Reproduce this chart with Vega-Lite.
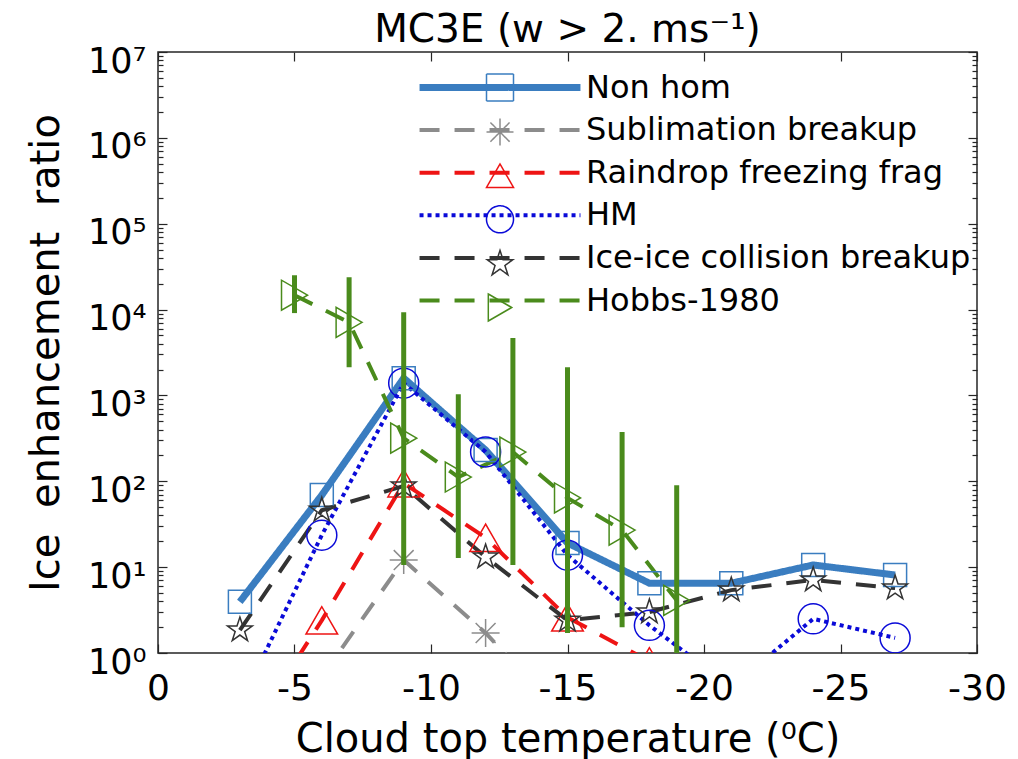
{
  "$schema": "https://vega.github.io/schema/vega-lite/v6.json",
  "width": 819,
  "height": 601,
  "autosize": {"type": "none"},
  "padding": {"left": 158, "top": 52, "right": 41, "bottom": 106},
  "title": {"text": "MC3E (w > 2. ms⁻¹)", "font": "DejaVu Sans", "fontSize": 39, "fontWeight": "normal", "color": "black", "anchor": "middle", "frame": "group", "baseline": "alphabetic", "offset": 9, "dy": 46},
  "datasets": {
    "series": [
      {"series": "Non hom", "t": -3, "ratio": 3.95},
      {"series": "Non hom", "t": -6, "ratio": 69},
      {"series": "Non hom", "t": -9, "ratio": 1590},
      {"series": "Non hom", "t": -12, "ratio": 231},
      {"series": "Non hom", "t": -15, "ratio": 19.1},
      {"series": "Non hom", "t": -18, "ratio": 6.5},
      {"series": "Non hom", "t": -21, "ratio": 6.5},
      {"series": "Non hom", "t": -24, "ratio": 10.6},
      {"series": "Non hom", "t": -27, "ratio": 8.1},
      {"series": "Sublimation breakup", "t": -6, "ratio": 0.53},
      {"series": "Sublimation breakup", "t": -9, "ratio": 12.1},
      {"series": "Sublimation breakup", "t": -12, "ratio": 1.71},
      {"series": "Sublimation breakup", "t": -15, "ratio": 0.17},
      {"series": "Raindrop freezing frag", "t": -3, "ratio": 0.08},
      {"series": "Raindrop freezing frag", "t": -6, "ratio": 2.4},
      {"series": "Raindrop freezing frag", "t": -9, "ratio": 95},
      {"series": "Raindrop freezing frag", "t": -12, "ratio": 22},
      {"series": "Raindrop freezing frag", "t": -15, "ratio": 2.6},
      {"series": "Raindrop freezing frag", "t": -18, "ratio": 0.8},
      {"series": "HM", "t": -3, "ratio": 0.25},
      {"series": "HM", "t": -6, "ratio": 23.6},
      {"series": "HM", "t": -9, "ratio": 1390},
      {"series": "HM", "t": -12, "ratio": 220},
      {"series": "HM", "t": -15, "ratio": 13.8},
      {"series": "HM", "t": -18, "ratio": 2.1},
      {"series": "HM", "t": -21, "ratio": 0.4},
      {"series": "HM", "t": -24, "ratio": 2.5},
      {"series": "HM", "t": -27, "ratio": 1.5},
      {"series": "Ice-ice collision breakup", "t": -3, "ratio": 1.85},
      {"series": "Ice-ice collision breakup", "t": -6, "ratio": 46},
      {"series": "Ice-ice collision breakup", "t": -9, "ratio": 88},
      {"series": "Ice-ice collision breakup", "t": -12, "ratio": 13.1},
      {"series": "Ice-ice collision breakup", "t": -15, "ratio": 2.4},
      {"series": "Ice-ice collision breakup", "t": -18, "ratio": 3.0},
      {"series": "Ice-ice collision breakup", "t": -21, "ratio": 5.4},
      {"series": "Ice-ice collision breakup", "t": -24, "ratio": 7.1},
      {"series": "Ice-ice collision breakup", "t": -27, "ratio": 5.7},
      {"series": "Hobbs-1980", "t": -5, "ratio": 14700},
      {"series": "Hobbs-1980", "t": -7, "ratio": 7100},
      {"series": "Hobbs-1980", "t": -9, "ratio": 318},
      {"series": "Hobbs-1980", "t": -11, "ratio": 112},
      {"series": "Hobbs-1980", "t": -13, "ratio": 219},
      {"series": "Hobbs-1980", "t": -15, "ratio": 64},
      {"series": "Hobbs-1980", "t": -17, "ratio": 27},
      {"series": "Hobbs-1980", "t": -19, "ratio": 4.1}
    ],
    "bars": [
      {"t": -5, "lo": 9100, "hi": 25100},
      {"t": -7, "lo": 2130, "hi": 23800},
      {"t": -9, "lo": 10.6, "hi": 9330},
      {"t": -11, "lo": 12.8, "hi": 1035},
      {"t": -13, "lo": 10.6, "hi": 4650},
      {"t": -15, "lo": 1.71, "hi": 2130},
      {"t": -17, "lo": 2.0, "hi": 374},
      {"t": -19, "lo": 0.5, "hi": 90}
    ]
  },
  "layer": [
    {
      "data": {"name": "series"},
      "mark": {"type": "line", "clip": true, "strokeCap": "butt"},
      "encoding": {
        "x": {
          "field": "t", "type": "quantitative",
          "scale": {"domain": [0, -30], "nice": false, "zero": false},
          "axis": {
            "orient": "bottom",
            "values": [0, -5, -10, -15, -20, -25, -30],
            "labelExpr": "datum.value == 0 ? '0' : '-' + abs(datum.value)",
            "labelFontSize": 36,
            "labelFlush": false,
            "labelOverlap": false,
            "tickSize": -9,
            "labelPadding": 27,
            "title": "Cloud top temperature (⁰C)",
            "titleFontSize": 40,
            "titleBaseline": "alphabetic",
            "titleY": 98
          }
        },
        "y": {
          "field": "ratio", "type": "quantitative",
          "scale": {"type": "log", "domain": [1, 10000000], "nice": false},
          "axis": {
            "orient": "left",
            "values": [1,2,3,4,5,6,7,8,9,10,20,30,40,50,60,70,80,90,100,200,300,400,500,600,700,800,900,1000,2000,3000,4000,5000,6000,7000,8000,9000,10000,20000,30000,40000,50000,60000,70000,80000,90000,100000,200000,300000,400000,500000,600000,700000,800000,900000,1000000,2000000,3000000,4000000,5000000,6000000,7000000,8000000,9000000,10000000],
            "labelExpr": "abs(log(datum.value)/LN10 - round(log(datum.value)/LN10)) < 0.001 ? '10' + ['⁰','¹','²','³','⁴','⁵','⁶','⁷'][round(log(datum.value)/LN10)] : ''",
            "labelFontSize": 35,
            "labelOverlap": false,
            "labelFlush": false,
            "tickSize": {"condition": {"test": "abs(log(datum.value)/LN10 - round(log(datum.value)/LN10)) < 0.001", "value": -9}, "value": -5},
            "labelPadding": 21,
            "labelOffset": 9,
            "title": "Ice\u00a0\u00a0enhancement\u00a0\u00a0ratio",
            "titleFontSize": 40,
            "titleBaseline": "alphabetic",
            "titleX": -100
          }
        },
        "color": {
          "field": "series", "type": "nominal",
          "scale": {
            "domain": ["Non hom", "Sublimation breakup", "Raindrop freezing frag", "HM", "Ice-ice collision breakup", "Hobbs-1980"],
            "range": ["#3a7dc0", "#8c8c8c", "#ee1414", "#0a0ad8", "#333333", "#4a8b1c"]
          },
          "legend": {
            "orient": "none", "legendX": 326, "legendY": 19.5, "title": null,
            "symbolType": "M-5.96,0H5.96", "symbolSize": 729,
            "labelFontSize": 32, "labelOffset": 70, "labelLimit": 600, "rowPadding": 10.6,
            "encode": {"symbols": {"update": {"strokeWidth": {"signal": "datum.value === 'Non hom' ? 7 : 4"}, "fill": {"value": "transparent"}}}}
          }
        },
        "strokeDash": {
          "field": "series", "type": "nominal",
          "scale": {
            "domain": ["Non hom", "Sublimation breakup", "Raindrop freezing frag", "HM", "Ice-ice collision breakup", "Hobbs-1980"],
            "range": [[1, 0], [20, 15], [20, 15], [4, 4], [20, 15], [20, 15]]
          },
          "legend": {
            "orient": "none", "legendX": 326, "legendY": 19.5, "title": null,
            "symbolType": "M-5.96,0H5.96", "symbolSize": 729,
            "labelFontSize": 32, "labelOffset": 70, "labelLimit": 600, "rowPadding": 10.6
          }
        },
        "strokeWidth": {"condition": {"test": "datum.series === 'Non hom'", "value": 7}, "value": 4}
      }
    },
    {
      "data": {"name": "series"},
      "mark": {"type": "point", "filled": false, "strokeWidth": 1.5, "opacity": 1, "clip": true},
      "encoding": {
        "x": {
          "field": "t", "type": "quantitative",
          "axis": {"orient": "top", "values": [0, -5, -10, -15, -20, -25, -30], "labels": false, "tickSize": -9, "title": null}
        },
        "y": {
          "field": "ratio", "type": "quantitative",
          "axis": {
            "orient": "right",
            "values": [1,2,3,4,5,6,7,8,9,10,20,30,40,50,60,70,80,90,100,200,300,400,500,600,700,800,900,1000,2000,3000,4000,5000,6000,7000,8000,9000,10000,20000,30000,40000,50000,60000,70000,80000,90000,100000,200000,300000,400000,500000,600000,700000,800000,900000,1000000,2000000,3000000,4000000,5000000,6000000,7000000,8000000,9000000,10000000],
            "labels": false,
            "tickSize": {"condition": {"test": "abs(log(datum.value)/LN10 - round(log(datum.value)/LN10)) < 0.001", "value": -9}, "value": -5},
            "title": null
          }
        },
        "stroke": {
          "field": "series", "type": "nominal",
          "scale": {
            "domain": ["Non hom", "Sublimation breakup", "Raindrop freezing frag", "HM", "Ice-ice collision breakup", "Hobbs-1980", "zz"],
            "range": ["#3a7dc0", "#8c8c8c", "#ee1414", "#0a0ad8", "#333333", "#4a8b1c", "#000000"]
          },
          "legend": {
            "orient": "none", "legendX": 326, "legendY": 19.5, "title": null,
            "values": ["Non hom", "Sublimation breakup", "Raindrop freezing frag", "HM", "Ice-ice collision breakup", "Hobbs-1980"],
            "symbolSize": 729, "labelFontSize": 32, "labelOffset": 70, "labelLimit": 600, "rowPadding": 10.6,
            "labelExpr": "' '",
            "symbolFillColor": "transparent", "symbolStrokeWidth": 1.5, "symbolDash": [1, 0],
            "encode": {"symbols": {"update": {"size": {"signal": "datum.value === 'Non hom' ? 529 : datum.value === 'HM' ? 900 : datum.value === 'Raindrop freezing frag' ? 1000 : datum.value === 'Ice-ice collision breakup' ? 676 : datum.value === 'Sublimation breakup' ? 784 : 900"}}}}
          }
        },
        "shape": {
          "field": "series", "type": "nominal",
          "scale": {
            "domain": ["Non hom", "Sublimation breakup", "Raindrop freezing frag", "HM", "Ice-ice collision breakup", "Hobbs-1980", "zz"],
            "range": [
              "square",
              "M0,-1L0,1M-1,0L1,0M-0.71,-0.71L0.71,0.71M-0.71,0.71L0.71,-0.71",
              "triangle-up",
              "circle",
              "M0,-1L0.225,-0.31L0.951,-0.309L0.363,0.118L0.588,0.809L0,0.382L-0.588,0.809L-0.363,0.118L-0.951,-0.309L-0.225,-0.31Z",
              "triangle-right",
              "circle"
            ]
          },
          "legend": {
            "orient": "none", "legendX": 326, "legendY": 19.5, "title": null,
            "values": ["Non hom", "Sublimation breakup", "Raindrop freezing frag", "HM", "Ice-ice collision breakup", "Hobbs-1980"],
            "symbolSize": 729, "labelFontSize": 32, "labelOffset": 70, "labelLimit": 600, "rowPadding": 10.6,
            "labelExpr": "' '",
            "symbolFillColor": "transparent", "symbolStrokeWidth": 1.5, "symbolDash": [1, 0]
          }
        },
        "size": {
          "condition": [
            {"test": "datum.series === 'Non hom'", "value": 529},
            {"test": "datum.series === 'HM'", "value": 900},
            {"test": "datum.series === 'Raindrop freezing frag'", "value": 1000},
            {"test": "datum.series === 'Ice-ice collision breakup'", "value": 676},
            {"test": "datum.series === 'Sublimation breakup'", "value": 784}
          ],
          "value": 900
        }
      }
    },
    {
      "data": {"name": "bars"},
      "mark": {"type": "rule", "clip": true, "color": "#4a8b1c", "strokeWidth": 5},
      "encoding": {
        "x": {"field": "t", "type": "quantitative", "axis": null},
        "y": {"field": "lo", "type": "quantitative", "axis": null},
        "y2": {"field": "hi"}
      }
    }
  ],
  "resolve": {"axis": {"x": "independent", "y": "independent"}},
  "config": {
    "font": "DejaVu Sans",
    "view": {"stroke": "#262626", "strokeWidth": 1.5},
    "axis": {
      "grid": false, "domain": false,
      "labelFont": "DejaVu Sans", "titleFont": "DejaVu Sans",
      "labelColor": "black", "titleColor": "black",
      "tickColor": "#262626", "tickWidth": 1.2,
      "titleFontWeight": "normal"
    },
    "legend": {"labelFont": "DejaVu Sans", "labelColor": "black"}
  }
}
